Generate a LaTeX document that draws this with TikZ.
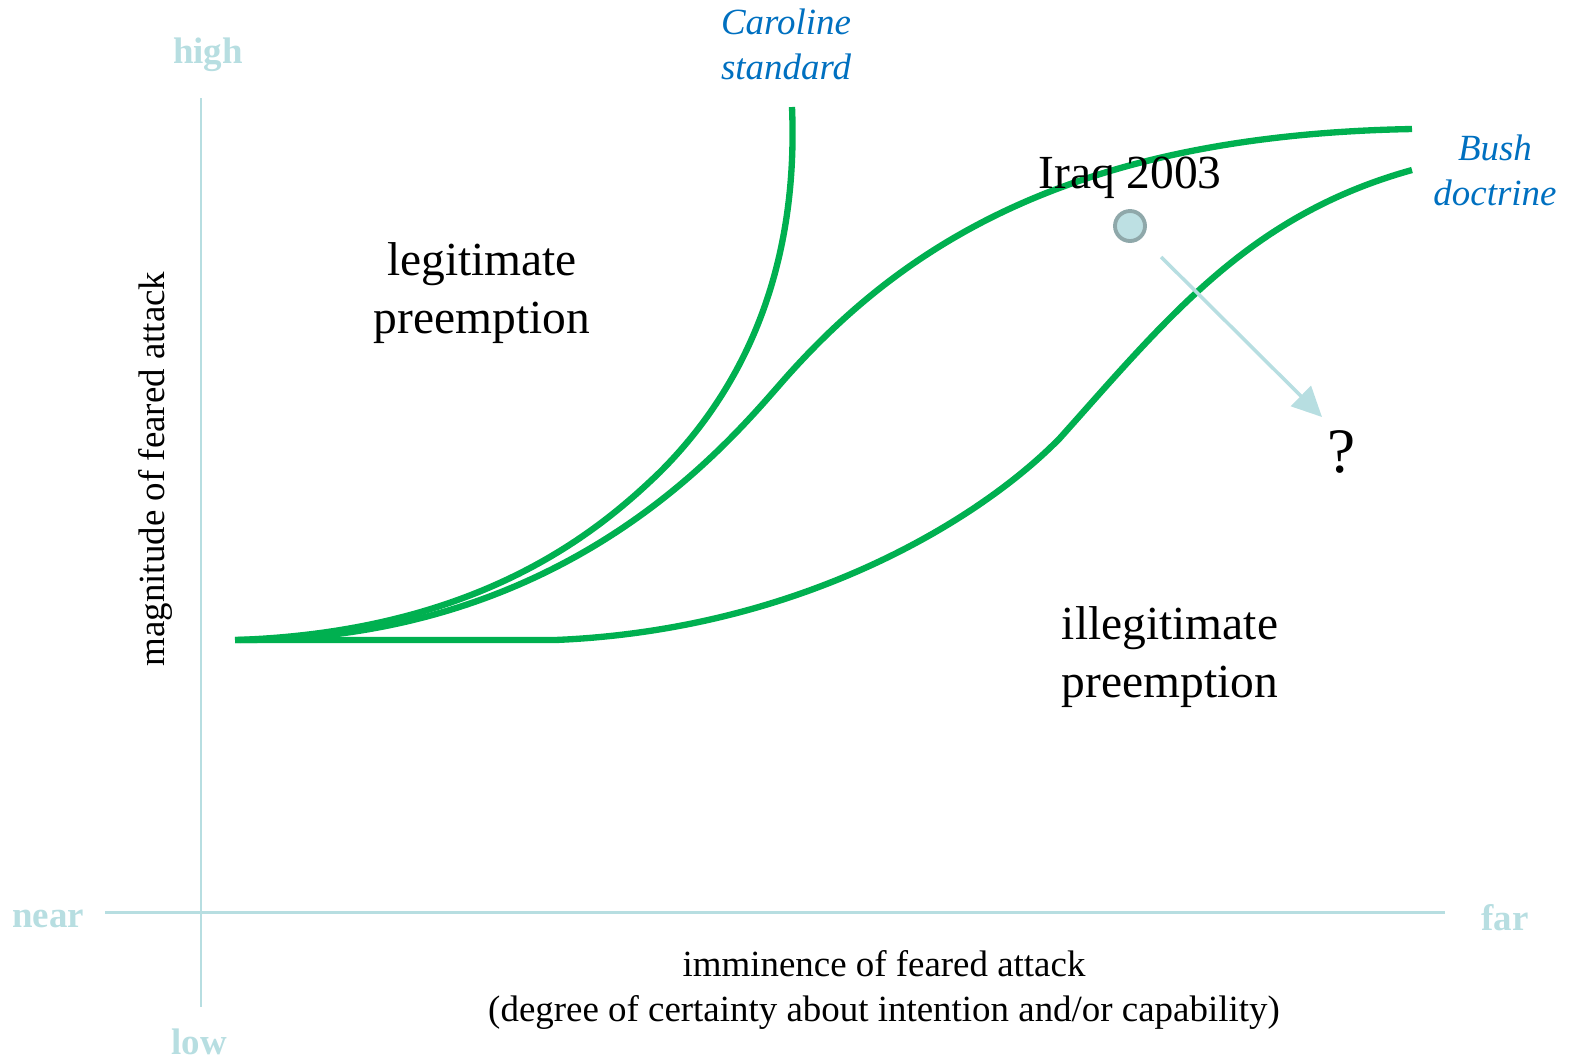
\documentclass[tikz,border=0pt]{standalone}
\usepackage{fontspec}
\setmainfont{Liberation Serif}
\usetikzlibrary{arrows.meta}

\definecolor{axisblue}{RGB}{183,222,225}
\definecolor{curvegreen}{RGB}{0,176,80}
\definecolor{labelblue}{RGB}{0,112,192}
\definecolor{dotfill}{RGB}{189,224,227}
\definecolor{dotrim}{RGB}{143,168,170}

\begin{document}
\begin{tikzpicture}[x=0.01cm, y=-0.01cm,
  axis/.style={draw=axisblue, line width=0.85pt},
  axislabel/.style={text=axisblue, font=\fontsize{10.5}{12.8}\selectfont\bfseries, inner sep=0pt},
  curve/.style={draw=curvegreen, line width=1.8pt},
  doctrine/.style={text=labelblue, font=\fontsize{10.5}{12.8}\selectfont\itshape, align=center, inner sep=0pt},
  region/.style={font=\fontsize{13.5}{16.5}\selectfont, align=center, inner sep=0pt},
  caption/.style={font=\fontsize{10.5}{12.8}\selectfont, align=center, inner sep=0pt}]

  \useasboundingbox (0,0) rectangle (1572,1059);

  % axes
  \draw[axis] (201,98) -- (201,1007);
  \draw[axis] (105,912) -- (1445,912);
  \node[axislabel] (high) at (208,55) {high};
  \node[axislabel] (low) at (199,1042) {low};
  \node[axislabel] (near) at (48,919) {near};
  \node[axislabel] (far) at (1505,918) {far};

  \node[caption, rotate=90] (magnitude) at (155,469) {magnitude of feared attack};
  \node[caption] (imminence) at (884,990) {imminence of feared attack\\(degree of certainty about intention and/or capability)};

  % Caroline standard
  \draw[curve] (235,640) .. controls (480,632) and (600,530) .. (660,472)
                         .. controls (720,412) and (800,300) .. (792,107);
  % middle curve
  \draw[curve] (240,640) .. controls (580,640) and (740,428) .. (790,373)
                         .. controls (910,240) and (1080,135) .. (1412,129);
  % Bush doctrine
  \draw[curve] (235,640) -- (555,640) .. controls (800,630) and (980,520) .. (1060,438)
                         .. controls (1170,315) and (1250,215) .. (1412,170);

  \node[doctrine] (caroline) at (786,44) {Caroline\\standard};
  \node[doctrine] (bush) at (1495,170) {Bush\\doctrine};

  \node[region] (legit) at (482,293) {legitimate\\preemption};
  \node[region] (illegit) at (1170,657) {illegitimate\\preemption};

  \node[font=\fontsize{13.5}{16.5}\selectfont, anchor=base, inner sep=0pt] (iraqlabel) at (1130,188) {Iraq 2003};
  \node[circle, fill=dotfill, draw=dotrim, line width=1.1pt, minimum size=0.3cm, inner sep=0pt] (iraq) at (1130,226) {};

  \node[font=\fontsize{18}{20}\selectfont, inner sep=0pt] (query) at (1342,452) {?};
  \coordinate (qtip) at (1322,417);
  \draw[axisblue, line width=1pt, -{Triangle[length=8.5pt,width=8pt]}, shorten <=0.27cm] (iraq) -- (qtip);

\end{tikzpicture}
\end{document}
